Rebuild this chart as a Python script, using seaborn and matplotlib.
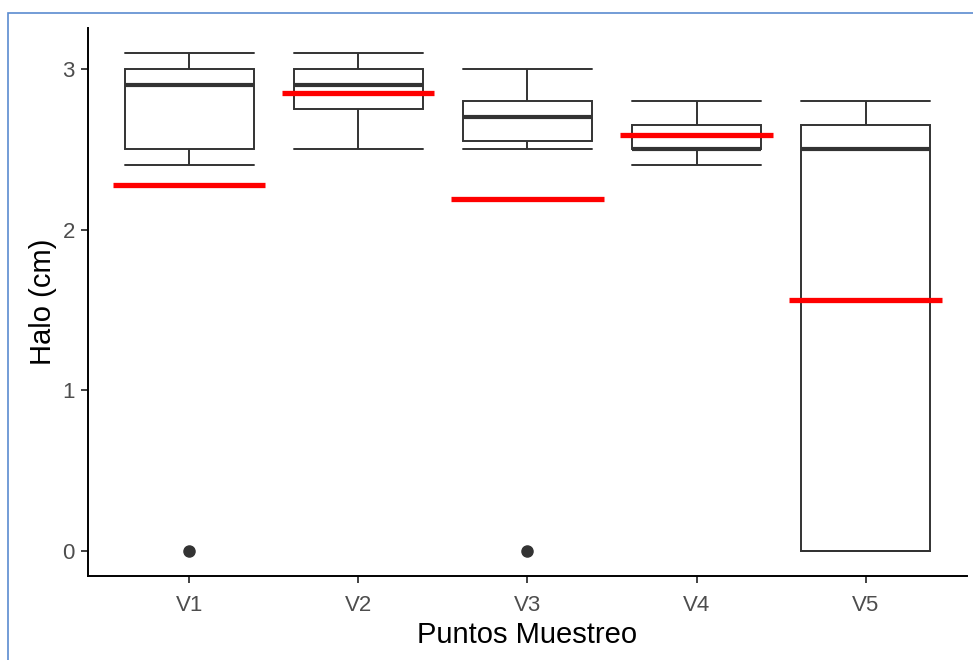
import numpy as np
import pandas as pd
import matplotlib
matplotlib.use("Agg")
import matplotlib.pyplot as plt
from matplotlib.patches import Rectangle
import seaborn as sns

# ---- data ----
puntos = ["V1", "V2", "V3", "V4", "V5"]
halo_v1 = [0.0, 2.4, 2.5, 2.7, 2.9, 3.0, 3.0, 3.1, 3.1]
halo_v2 = [2.5, 2.7, 2.75, 2.8, 2.9, 2.9, 3.0, 3.0, 3.1]
halo_v3 = [0.0, 2.5, 2.55, 2.6, 2.7, 2.7, 2.8, 2.9, 3.0]
halo_v4 = [2.4, 2.5, 2.5, 2.5, 2.5, 2.6, 2.65, 2.7, 2.8]
halo_v5 = [0.0, 0.0, 0.0, 1.5, 2.5, 2.6, 2.65, 2.7, 2.8]
medias = [2.28, 2.85, 2.19, 2.59, 1.565]   # red reference lines
yticks = [0, 1, 2, 3]

df = pd.DataFrame({
    "punto": sum([[p] * len(v) for p, v in
                  zip(puntos, [halo_v1, halo_v2, halo_v3, halo_v4, halo_v5])], []),
    "halo": halo_v1 + halo_v2 + halo_v3 + halo_v4 + halo_v5,
})
df["punto"] = pd.Categorical(df["punto"], categories=puntos, ordered=True)

sns.set_theme(style="ticks")
plt.rcParams["font.family"] = ["Liberation Sans", "DejaVu Sans"]

fig = plt.figure(figsize=(9.73, 6.6), dpi=100)
ax = fig.add_axes([0.0904, 0.1273, 0.9034, 0.8303])

line_c = "#333333"
sns.boxplot(data=df, x="punto", y="halo", order=puntos, ax=ax,
            color="white", saturation=1, linecolor=line_c, linewidth=1.4,
            width=0.76, whis=1.5, capwidths=0.76,
            medianprops=dict(linewidth=3.0, color=line_c),
            flierprops=dict(marker="o", markersize=8, markerfacecolor=line_c,
                            markeredgecolor=line_c))

# red mean lines
xpos = np.arange(len(puntos))
ax.hlines(medias, xpos - 0.45, xpos + 0.45, colors="#FF0000", linewidth=3.8, zorder=5)

ax.set_xlim(-0.6, len(puntos) - 0.4)
ax.set_ylim(-0.155, 3.255)
ax.set_yticks(yticks)
ax.set_yticklabels([str(t) for t in yticks])

ax.set_xlabel("Puntos Muestreo", fontsize=21, color="black", labelpad=3.5)
ax.set_ylabel("Halo (cm)", fontsize=21, color="black", labelpad=4)
ax.tick_params(axis="both", labelsize=16, labelcolor="#4D4D4D", color="#333333",
               length=5, width=1.3)
ax.tick_params(axis="x", pad=8.5)
ax.tick_params(axis="y", pad=4.5)
for side in ["top", "right"]:
    ax.spines[side].set_visible(False)
for side in ["left", "bottom"]:
    ax.spines[side].set_color("black")
    ax.spines[side].set_linewidth(1.4)
ax.grid(False)

# blue screenshot frame
fig.patches.append(Rectangle((8 / 973, -0.1), 1.2, (660 - 13) / 660 + 0.1,
                             transform=fig.transFigure, fill=False,
                             edgecolor="#5B8BD0", linewidth=1.2, zorder=10))

fig.savefig("out.png", dpi=100)
